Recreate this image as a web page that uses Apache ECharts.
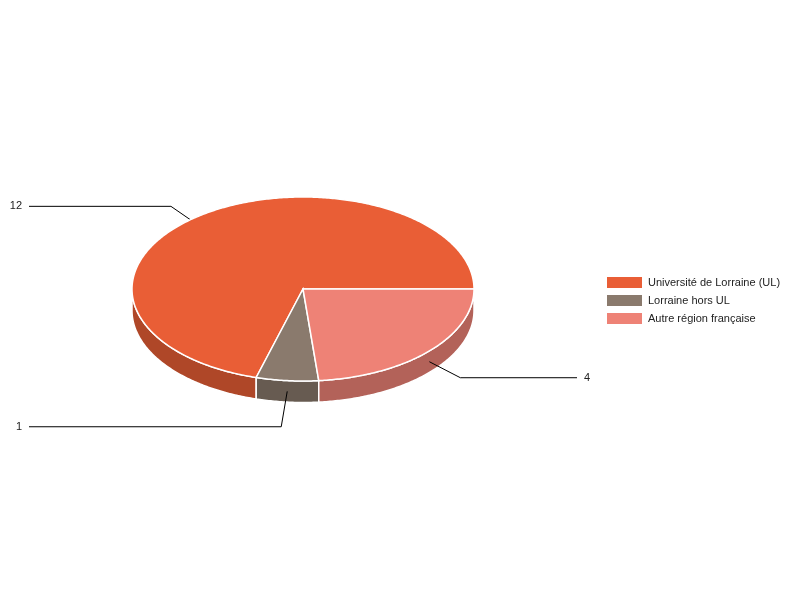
<!DOCTYPE html>
<html>
<head>
<meta charset="utf-8">
<style>html,body{margin:0;padding:0;background:#fff}#c{width:800px;height:600px}</style>
<script src="https://cdn.jsdelivr.net/npm/echarts@6/dist/echarts.min.js"></script>
</head>
<body>
<div id="c"></div>
<script>
const categories = ['Université de Lorraine (UL)', 'Lorraine hors UL', 'Autre région française'];
const values = [12, 1, 4];
const topColors = ['#E95E36', '#8A7A6D', '#EE8276'];
const sideColors = ['#AF4728', '#675B51', '#B36259'];
// leader-line elbow offset from each slice's anchor
const elbowDX = [-29, -6, 31];
const elbowDY = [-20, 35.4, 16];

const CX = 303, CY = 289, RX = 171, RY = 92, DEPTH = 21.5;
const LEFT_END = 29, RIGHT_END = 577;
const total = values.reduce((a, b) => a + b, 0);

// slices run counter-clockwise from 3 o'clock (screen angle grows clockwise)
function sliceAngles(i) {
  const before = values.slice(0, i).reduce((a, b) => a + b, 0);
  const a0 = 2 * Math.PI * (1 - (before + values[i]) / total);
  const a1 = 2 * Math.PI * (1 - before / total);
  return [a0, a1];
}
function pt(a, dy) {
  return [CX + RX * Math.cos(a), CY + RY * Math.sin(a) + (dy || 0)];
}
function arc(a0, a1, dy) {
  const n = Math.max(2, Math.ceil((a1 - a0) * 90));
  const out = [];
  for (let k = 0; k <= n; k++) out.push(pt(a0 + (a1 - a0) * k / n, dy));
  return out;
}

function renderSlice(i) {
  return function () {
    const [a0, a1] = sliceAngles(i);
    const mid = (a0 + a1) / 2;
    const children = [];
    // visible wall: the front half only
    const s0 = Math.max(a0, 0), s1 = Math.min(a1, Math.PI);
    if (s1 > s0) {
      children.push({
        type: 'polygon', z2: 1,
        shape: { points: arc(s0, s1, 0).concat(arc(s0, s1, DEPTH).reverse()) },
        style: { fill: sideColors[i], stroke: '#fff', lineWidth: 1.5 }
      });
    }
    // leader line + label
    const anchor = pt(mid, DEPTH / 2);
    const elbow = [anchor[0] + elbowDX[i], anchor[1] + elbowDY[i]];
    const onRight = anchor[0] > CX;
    const end = [onRight ? RIGHT_END : LEFT_END, elbow[1]];
    children.push({
      type: 'polyline', z2: 2,
      shape: { points: [anchor, elbow, end] },
      style: { fill: 'none', stroke: '#000', lineWidth: 1 }
    });
    children.push({
      type: 'text', z2: 2,
      style: {
        text: String(values[i]),
        x: end[0] + (onRight ? 7 : -7), y: end[1],
        align: onRight ? 'left' : 'right', verticalAlign: 'middle',
        font: '11px "Liberation Sans", Arial, sans-serif', fill: '#222'
      }
    });
    // top face
    children.push({
      type: 'polygon', z2: 3,
      shape: { points: [[CX, CY]].concat(arc(a0, a1, 0)) },
      style: { fill: topColors[i], stroke: '#fff', lineWidth: 1.5 }
    });
    return { type: 'group', children };
  };
}

const chart = echarts.init(document.getElementById('c'), null, { renderer: 'canvas' });
chart.setOption({
  animation: false,
  backgroundColor: '#fff',
  legend: {
    orient: 'vertical', left: 607, top: 277,
    itemWidth: 35, itemHeight: 11, itemGap: 7,
    icon: 'rect',
    data: categories,
    selectedMode: false,
    padding: 0,
    textStyle: { fontFamily: '"Liberation Sans", Arial, sans-serif', fontSize: 11, color: '#222', padding: [0, 0, 0, 1] }
  },
  series: categories.map((name, i) => ({
    type: 'custom',
    name,
    coordinateSystem: 'none',
    silent: true,
    clip: false,
    itemStyle: { color: topColors[i] },
    data: [values[i]],
    renderItem: renderSlice(i)
  }))
});
</script>
</body>
</html>
